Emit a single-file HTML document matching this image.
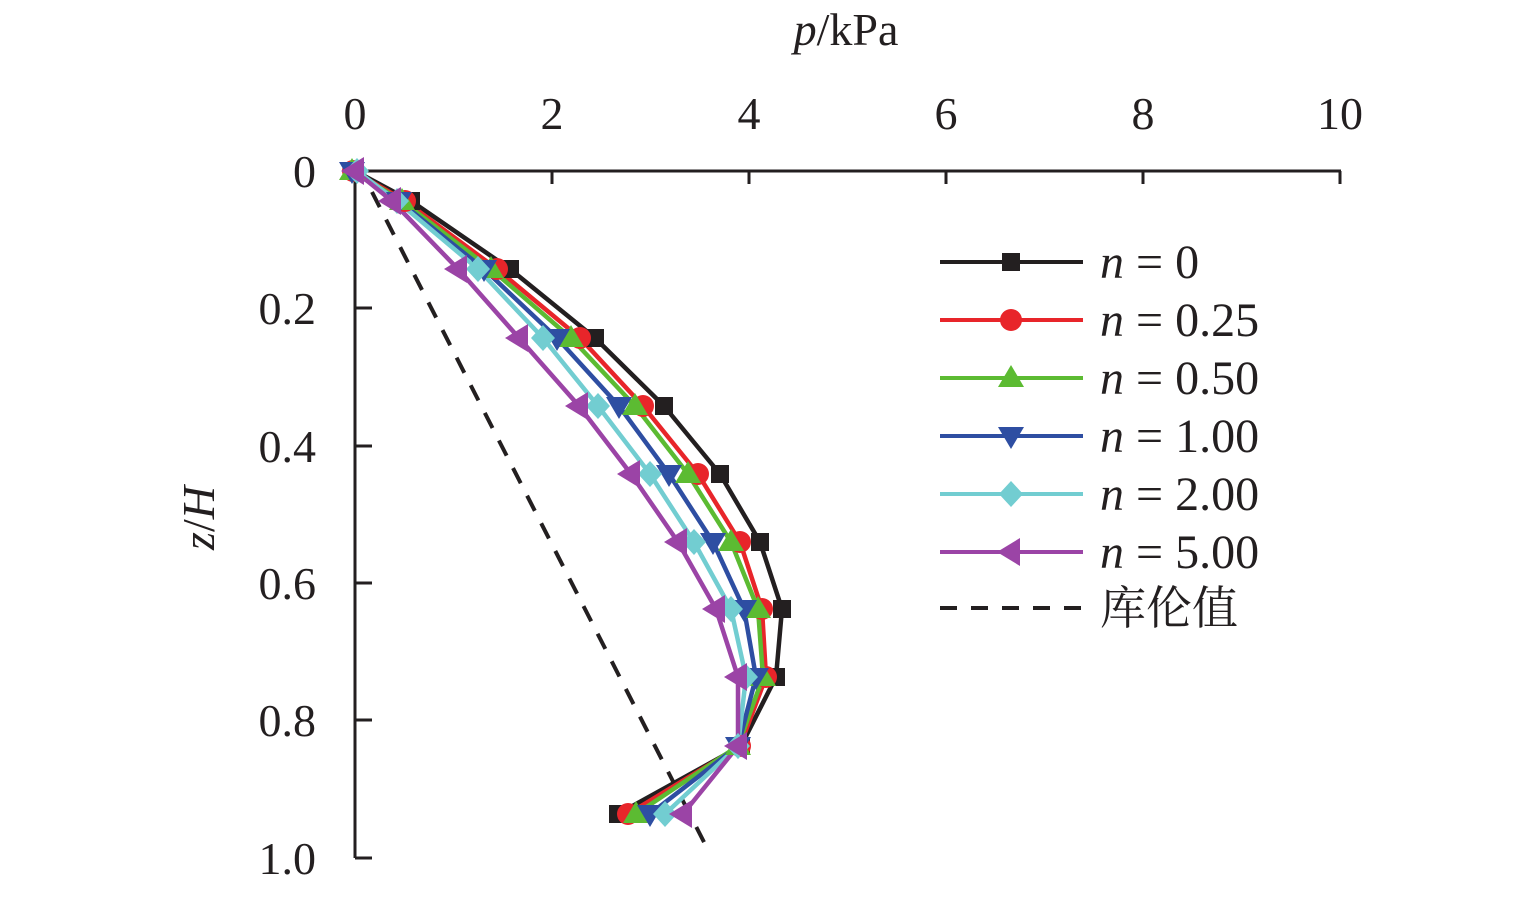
<!DOCTYPE html><html><head><meta charset="utf-8"><style>body{margin:0;background:#fff}</style></head><body>
<svg width="1535" height="893" xmlns="http://www.w3.org/2000/svg" font-family="Liberation Serif, Noto Serif CJK SC, serif">
<g stroke="#231f20" stroke-width="3" fill="none">
<line x1="355" y1="171" x2="1341" y2="171"/>
<line x1="355" y1="171" x2="355" y2="858"/>
<line x1="552" y1="171" x2="552" y2="184"/><line x1="749" y1="171" x2="749" y2="184"/><line x1="946" y1="171" x2="946" y2="184"/><line x1="1143" y1="171" x2="1143" y2="184"/><line x1="1340" y1="171" x2="1340" y2="184"/>
<line x1="355" y1="308" x2="372" y2="308"/><line x1="355" y1="446" x2="372" y2="446"/><line x1="355" y1="583" x2="372" y2="583"/><line x1="355" y1="720" x2="372" y2="720"/><line x1="355" y1="858" x2="372" y2="858"/>
</g>
<g font-size="46" fill="#231f20" text-anchor="middle">
<text x="355" y="129">0</text><text x="552" y="129">2</text><text x="749" y="129">4</text><text x="946" y="129">6</text><text x="1143" y="129">8</text><text x="1340" y="129">10</text>
</g>
<g font-size="46" fill="#231f20" text-anchor="end">
<text x="316" y="187">0</text><text x="316" y="324">0.2</text><text x="316" y="462">0.4</text><text x="316" y="599">0.6</text><text x="316" y="736">0.8</text><text x="316" y="874">1.0</text>
</g>
<text x="846" y="45" font-size="46" text-anchor="middle" fill="#231f20"><tspan font-style="italic">p</tspan>/kPa</text>
<text transform="translate(214,518) rotate(-90)" font-size="46" text-anchor="middle" fill="#231f20"><tspan font-style="italic">z</tspan>/<tspan font-style="italic">H</tspan></text>
<line x1="372" y1="192" x2="706" y2="846" stroke="#231f20" stroke-width="4" stroke-dasharray="17,14"/>
<g fill="none" stroke-width="4.5" stroke-linejoin="round">
<polyline stroke="#231f20" points="355,171 411,201 510,269 595,338 664,406 720,474 760,542 782,609 776,677 741,746 618,814"/>
<polyline stroke="#e8252a" points="353,171 405,201 497,269 580,338 643,406 698,474 740,542 762,609 766,677 740,746 628,814"/>
<polyline stroke="#5cbb32" points="352,171 402,201 491,269 571,338 635,406 688,474 731,542 758,609 763,677 738,746 636,814"/>
<polyline stroke="#2e4ea2" points="352,171 399,201 484,269 557,338 619,406 669,474 713,542 744,609 756,677 738,746 650,814"/>
<polyline stroke="#72cdd1" points="357,171 397,201 478,269 543,338 598,406 650,474 694,542 731,609 746,677 738,746 665,814"/>
<polyline stroke="#9b44a6" points="355,171 392,201 458,269 519,338 579,406 631,474 678,542 716,609 738,677 738,746 683,814"/>
</g>
<g fill="#231f20"><rect x="346" y="162" width="18" height="18"/><rect x="402" y="192" width="18" height="18"/><rect x="501" y="260" width="18" height="18"/><rect x="586" y="329" width="18" height="18"/><rect x="655" y="397" width="18" height="18"/><rect x="711" y="465" width="18" height="18"/><rect x="751" y="533" width="18" height="18"/><rect x="773" y="600" width="18" height="18"/><rect x="767" y="668" width="18" height="18"/><rect x="732" y="737" width="18" height="18"/><rect x="609" y="805" width="18" height="18"/></g>
<g fill="#e8252a"><circle cx="353" cy="171" r="11"/><circle cx="405" cy="201" r="11"/><circle cx="497" cy="269" r="11"/><circle cx="580" cy="338" r="11"/><circle cx="643" cy="406" r="11"/><circle cx="698" cy="474" r="11"/><circle cx="740" cy="542" r="11"/><circle cx="762" cy="609" r="11"/><circle cx="766" cy="677" r="11"/><circle cx="740" cy="746" r="11"/><circle cx="628" cy="814" r="11"/></g>
<script>
const S="http://www.w3.org/2000/svg",svg=document.querySelector('svg');
const ys=[171,201,269,338,406,474,542,609,677,746,814];
const series=[["#5cbb32",[352,402,491,571,635,688,731,758,763,738,636],"up"],["#2e4ea2",[352,399,484,557,619,669,713,744,756,738,650],"down"],["#72cdd1",[357,397,478,543,598,650,694,731,746,738,665],"dia"],["#9b44a6",[355,392,458,519,579,631,678,716,738,738,683],"left"]];
function shape(t,x,y,c){const p=document.createElementNS(S,'polygon');let pts;
if(t=="up")pts=[[x,y-13],[x+13,y+9],[x-13,y+9]];else if(t=="down")pts=[[x,y+13],[x+13,y-9],[x-13,y-9]];else if(t=="dia")pts=[[x,y-13],[x+12,y],[x,y+13],[x-12,y]];else pts=[[x-14,y],[x+9,y-14],[x+9,y+14]];
p.setAttribute('points',pts.map(a=>a.join(',')).join(' '));p.setAttribute('fill',c);svg.appendChild(p);}
series.forEach(s=>s[1].forEach((x,i)=>shape(s[2],x,ys[i],s[0])));
const ly=[262,320,378,436,494,552];
[["sq","#231f20"],["c","#e8252a"],["up","#5cbb32"],["down","#2e4ea2"],["dia","#72cdd1"],["left","#9b44a6"]].forEach((l,i)=>{const y=ly[i];
const ln=document.createElementNS(S,'line');ln.setAttribute('x1',940);ln.setAttribute('x2',1083);ln.setAttribute('y1',y);ln.setAttribute('y2',y);ln.setAttribute('stroke',l[1]);ln.setAttribute('stroke-width',4);svg.appendChild(ln);
if(l[0]=="sq"){const r=document.createElementNS(S,'rect');r.setAttribute('x',1002);r.setAttribute('y',y-9);r.setAttribute('width',18);r.setAttribute('height',18);r.setAttribute('fill',l[1]);svg.appendChild(r);}
else if(l[0]=="c"){const r=document.createElementNS(S,'circle');r.setAttribute('cx',1011);r.setAttribute('cy',y);r.setAttribute('r',11);r.setAttribute('fill',l[1]);svg.appendChild(r);}
else shape(l[0],1011,y,l[1]);});
</script>
<line x1="940" y1="608" x2="1083" y2="608" stroke="#231f20" stroke-width="4" stroke-dasharray="17,14"/>
<g font-size="48" fill="#231f20">
<text x="1100" y="278"><tspan font-style="italic">n</tspan> = 0</text>
<text x="1100" y="336"><tspan font-style="italic">n</tspan> = 0.25</text>
<text x="1100" y="394"><tspan font-style="italic">n</tspan> = 0.50</text>
<text x="1100" y="452"><tspan font-style="italic">n</tspan> = 1.00</text>
<text x="1100" y="510"><tspan font-style="italic">n</tspan> = 2.00</text>
<text x="1100" y="568"><tspan font-style="italic">n</tspan> = 5.00</text>
<text x="1100" y="624" font-family="Noto Serif CJK SC, serif" font-size="46">库伦值</text>
</g>
</svg>
</body></html>
